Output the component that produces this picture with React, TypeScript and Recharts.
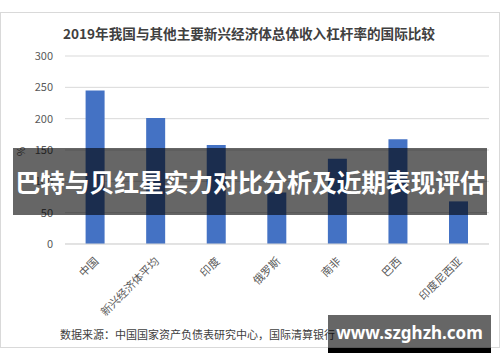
import { BarChart, Bar, XAxis, YAxis, CartesianGrid } from "recharts";

// 2019年总体收入杠杆率（%）
const countries = ["中国", "新兴经济体平均", "印度", "俄罗斯", "南非", "巴西", "印度尼西亚"];
const leverage = [245, 201, 158, 82, 136, 167, 68];
const yTicks = [0, 50, 100, 150, 200, 250, 300];

const data = countries.map((name, i) => ({ name, value: leverage[i] }));

const FONT = '"Noto Sans CJK SC", "Noto Sans", sans-serif';

const SlantTick = (props: { x?: number; y?: number; payload?: { value: string } }) => {
  const { x = 0, y = 0, payload } = props;
  return (
    <text
      transform={`translate(${x + 4},${y + 10}) rotate(-45)`}
      textAnchor="end"
      fontSize={11}
      fill="#595959"
      fontFamily={FONT}
    >
      {payload?.value}
    </text>
  );
};

export default function App() {
  return (
    <div
      style={{
        position: "absolute",
        left: 0,
        top: 0,
        width: 500,
        height: 362,
        background: "#fff",
        fontFamily: FONT,
        overflow: "hidden",
      }}
    >
      {/* 外框 */}
      <div
        style={{
          position: "absolute",
          left: 0,
          top: 12,
          width: 498,
          height: 334,
          border: "1px solid #d9d9d9",
        }}
      />
      <div
        style={{
          position: "absolute",
          left: 0,
          top: 24,
          width: 498,
          textAlign: "center",
          fontSize: 13.6,
          fontWeight: 700,
          color: "#404040",
          lineHeight: "18px",
        }}
      >
        2019年我国与其他主要新兴经济体总体收入杠杆率的国际比较
      </div>
      <div
        style={{
          position: "absolute",
          left: 16,
          top: 144,
          fontSize: 10,
          color: "#595959",
          transform: "rotate(-90deg)",
        }}
      >
        %
      </div>

      <div style={{ position: "absolute", left: 0, top: 0 }}>
        <BarChart
          width={500}
          height={362}
          data={data}
          margin={{ top: 56, right: 11, bottom: 18, left: 0 }}
          barCategoryGap="34%"
        >
          <CartesianGrid vertical={false} stroke="#d9d9d9" />
          <XAxis
            dataKey="name"
            height={100}
            interval={0}
            tick={<SlantTick />}
            tickLine={false}
            axisLine={{ stroke: "#d9d9d9" }}
          />
          <YAxis
            width={65}
            domain={[0, 300]}
            ticks={yTicks}
            tickSize={0}
            tickMargin={12}
            axisLine={false}
            tickLine={false}
            tick={{ fontSize: 11, fill: "#595959", fontFamily: FONT }}
          />
          <Bar dataKey="value" fill="#4472c4" isAnimationActive={false} />
        </BarChart>
      </div>

      <div
        style={{
          position: "absolute",
          left: 60,
          top: 326,
          fontSize: 11,
          color: "#404040",
          lineHeight: "16px",
          whiteSpace: "nowrap",
        }}
      >
        数据来源：中国国家资产负债表研究中心，国际清算银行
      </div>

      {/* 标题横幅 */}
      <div
        style={{
          position: "absolute",
          left: 13,
          top: 148,
          width: 474,
          height: 67,
          background: "rgba(0,0,0,0.6)",
          color: "#fff",
          fontSize: 25,
          fontWeight: 700,
          lineHeight: "67px",
          textAlign: "center",
          whiteSpace: "nowrap",
          letterSpacing: -0.3,
        }}
      >
        巴特与贝红星实力对比分析及近期表现评估
      </div>

      {/* 网址水印 */}
      <div
        style={{
          position: "absolute",
          left: 328,
          top: 315,
          width: 163,
          height: 33,
          background: "rgba(0,0,0,0.6)",
          borderBottom: "5px solid #000",
          color: "#fff",
          fontSize: 17,
          fontWeight: 700,
          lineHeight: "36px",
          textAlign: "center",
          fontFamily: '"Noto Sans", sans-serif',
        }}
      >
        www.szghzh.com
      </div>
    </div>
  );
}
